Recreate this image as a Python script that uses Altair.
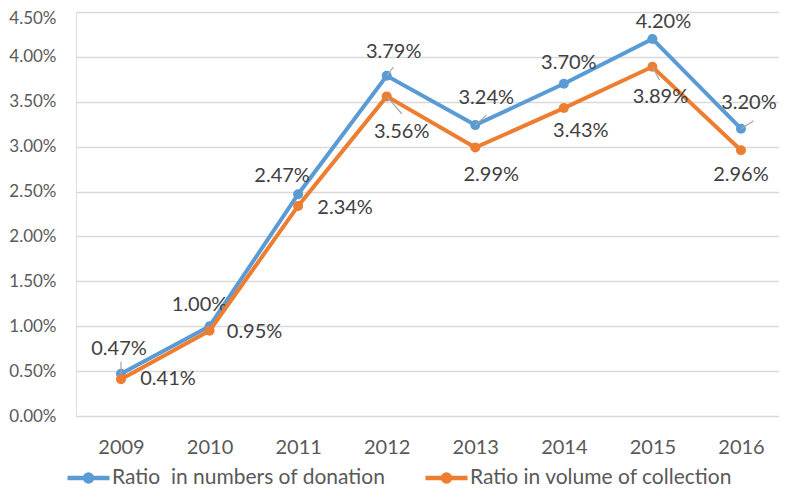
import altair as alt
import pandas as pd

years = ["2009", "2010", "2011", "2012", "2013", "2014", "2015", "2016"]
donation = [0.47, 1.00, 2.47, 3.79, 3.24, 3.70, 4.20, 3.20]
collection = [0.41, 0.95, 2.34, 3.56, 2.99, 3.43, 3.89, 2.96]
series_names = ["Ratio\u00a0 in numbers of donation", "Ratio in volume of collection"]
series_colors = ["#5b9bd5", "#ed7d31"]
y_ticks = [0.0, 0.5, 1.0, 1.5, 2.0, 2.5, 3.0, 3.5, 4.0, 4.5]

# data-label placement (pixel offsets from the marker)
don_dx = [-2, -10, -16, 7, 11, 5, 11, 8]
don_dy = [-25, -21, -18, -24, -27, -21, -17, -26]
col_dx = [47, 45, 47, 15, 16, 17, 8, 0]
col_dy = [0, 1, 2, 36, 27, 23, 30, 25]
# leader lines: angle (deg, clockwise from up) and length (px); 0 length = none
don_lead_angle = [0, 0, 0, 38, 48, 0, 0, 58]
don_lead_len = [12, 0, 0, 11, 15, 0, 0, 15]
col_lead_angle = [0, 0, 0, 139, 0, 0, 152, 0]
col_lead_len = [0, 0, 0, 23, 0, 0, 15, 0]

FONT = "Lato"

def frame(vals, name, la, ll):
    return pd.DataFrame({
        "year": years, "value": vals, "series": name,
        "la": la, "ls": [(2 * l) ** 2 for l in ll], "ll": ll,
    })

d1 = frame(donation, series_names[0], don_lead_angle, don_lead_len)
d2 = frame(collection, series_names[1], col_lead_angle, col_lead_len)

xenc = alt.X("year:O", sort=years, title=None,
             scale=alt.Scale(type="point", padding=0.4686, align=0.542),
             axis=alt.Axis(labelAngle=0, ticks=False, tickSize=0, domain=False, grid=False,
                           labelPadding=21, labelFontSize=20, labelColor="#595959", labelFont=FONT))
yenc = alt.Y("value:Q", title=None,
             scale=alt.Scale(domain=[0, 4.5], nice=False),
             axis=alt.Axis(values=y_ticks, labelExpr="format(datum.value, '.2f') + '%'",
                           ticks=False, tickSize=0, domain=False, grid=True,
                           gridColor="#d9d9d9", gridWidth=1.3, labelPadding=20,
                           labelOffset=alt.condition("datum.value == 4.5", alt.value(6), alt.value(0)),
                           labelFontSize=17, labelColor="#595959", labelFont=FONT))
cscale = alt.Scale(domain=series_names, range=series_colors)

# stroked legend glyph: a line with a dot in the middle
sym_path = "M-1,0L1,0M0.167,0A0.167,0.167,0,1,1,-0.167,0A0.167,0.167,0,1,1,0.167,0"
legend = alt.Legend(title=None, orient="none", legendX=-11, legendY=442,
                    direction="horizontal", symbolType=sym_path, symbolSize=1764,
                    symbolStrokeWidth=4.5, symbolOpacity=1, labelFontSize=21, labelFont=FONT,
                    labelColor="#595959", labelOffset=0, columnPadding=30,
                    labelLimit=500, padding=0)
cenc = alt.Color("series:N", scale=cscale, legend=legend)

layers = []
for df, dxs, dys in ((d1, don_dx, don_dy), (d2, col_dx, col_dy)):
    base = alt.Chart(df)
    line = base.mark_line(strokeWidth=4).encode(x=xenc, y=yenc, color=cenc)
    pts = base.mark_circle(size=100, opacity=1).encode(x=xenc, y=yenc, color=cenc)
    lead = base.transform_filter("datum.ll > 0").mark_point(
        shape="M0,0L0,-1", filled=False, color="#a6a6a6", strokeWidth=1.2, opacity=1
    ).encode(x=xenc, y=yenc, angle=alt.Angle("la:Q", scale=None),
             size=alt.Size("ls:Q", scale=None))
    layers += [line, pts, lead]
    for yr, dx, dy in zip(years, dxs, dys):
        txt = base.transform_filter(alt.datum.year == yr).transform_calculate(
            label="format(datum.value, '.2f') + '%'"
        ).mark_text(fontSize=20, font=FONT, color="#404040", align="center",
                    baseline="middle", dx=dx, dy=dy).encode(x=xenc, y=yenc, text="label:N")
        layers.append(txt)

chart = alt.layer(*layers).properties(
    width=703, height=404, autosize="none",
    padding={"left": 68, "top": 4, "right": 0, "bottom": 73},
).configure_view(stroke=None).configure(background="white")

chart.save("out.html", embed_options={"renderer": "svg", "actions": False})
